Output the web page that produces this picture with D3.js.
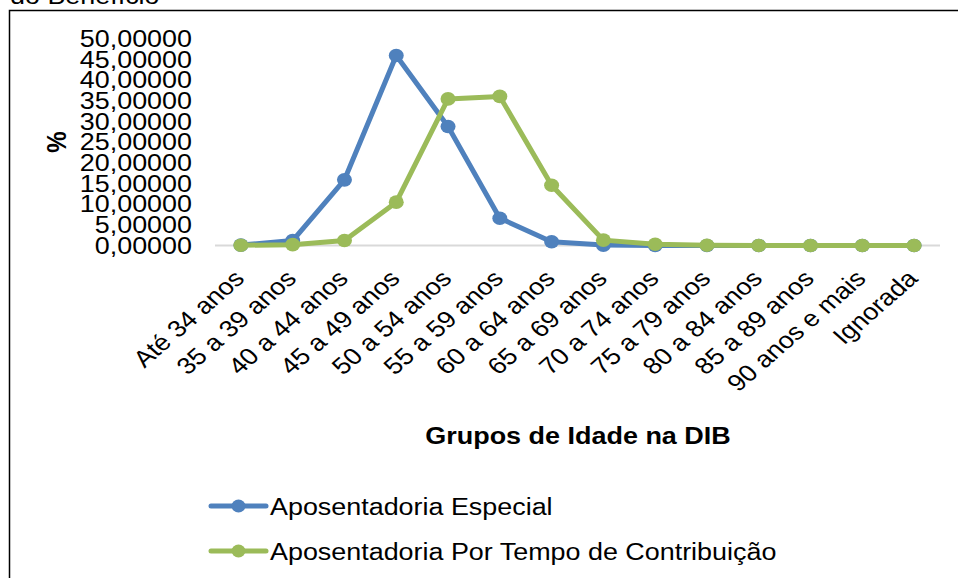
<!DOCTYPE html>
<html>
<head>
<meta charset="utf-8">
<script src="https://cdn.jsdelivr.net/npm/d3@7"></script>
<style>
  body { margin: 0; background: #fff; }
  text { font-family: "Liberation Sans", Arial, sans-serif; fill: #000; }
</style>
</head>
<body>
<div id="chart"></div>
<script>
// age groups on the x axis
var categories = ["Até 34 anos", "35 a 39 anos", "40 a 44 anos", "45 a 49 anos",
  "50 a 54 anos", "55 a 59 anos", "60 a 64 anos", "65 a 69 anos", "70 a 74 anos",
  "75 a 79 anos", "80 a 84 anos", "85 a 89 anos", "90 anos e mais", "Ignorada"];

var especial = [0.1, 1.2, 15.9, 46.0, 28.8, 6.6, 0.9, 0.1, 0.0, 0.0, 0.0, 0.0, 0.0, 0.0];
var contribuicao = [0.05, 0.2, 1.2, 10.5, 35.5, 36.1, 14.6, 1.3, 0.3, 0.05, 0.0, 0.0, 0.0, 0.0];

var seriesNames = ["Aposentadoria Especial", "Aposentadoria Por Tempo de Contribuição"];
var yTicks = [0, 5, 10, 15, 20, 25, 30, 35, 40, 45, 50];

var svgWidth = 958;
var svgHeight = 578;
var sx = 1.145;   // the picture is stretched sideways
var fs = 23.5;

var svg = d3.select("#chart")
  .append("svg")
  .attr("width", svgWidth)
  .attr("height", svgHeight);

// frame (only top and left edges visible)
svg.append("path")
  .attr("d", "M9.5,578 L9.5,10.5 L958,10.5")
  .attr("fill", "none")
  .attr("stroke", "#000")
  .attr("stroke-width", 1.5);

svg.append("text")
  .attr("transform", `translate(10, 4) scale(${sx},1)`)
  .style("font-size", fs + "px")
  .text("do Benefício");

var xScale = d3.scalePoint()
  .domain(categories)
  .range([215, 940])
  .padding(0.5);

var yScale = d3.scaleLinear()
  .domain([0, 50])
  .range([245.5, 39]);

// baseline grid line
svg.append("line")
  .attr("x1", 215).attr("x2", 940)
  .attr("y1", yScale(0)).attr("y2", yScale(0))
  .attr("stroke", "#d9d9d9")
  .attr("stroke-width", 2);

// y tick labels
var fmt = d => d.toFixed(5).replace(".", ",");
svg.append("g").selectAll("text")
  .data(yTicks)
  .enter()
  .append("text")
  .attr("transform", d => `translate(192, ${yScale(d) + 8}) scale(${sx},1)`)
  .attr("text-anchor", "end")
  .style("font-size", fs + "px")
  .text(fmt);

svg.append("text")
  .attr("transform", `translate(66, 142) scale(${sx},1) rotate(-90)`)
  .attr("text-anchor", "middle")
  .style("font-size", "24px")
  .style("font-weight", "bold")
  .text("%");

// x tick labels, rotated
svg.append("g").selectAll("text")
  .data(categories)
  .enter()
  .append("text")
  .attr("transform", d => `translate(${xScale(d) + 5}, 280) scale(${sx},1) rotate(-45)`)
  .attr("text-anchor", "end")
  .style("font-size", fs + "px")
  .text(d => d);

svg.append("text")
  .attr("transform", `translate(578, 443.5) scale(1.1,1)`)
  .attr("text-anchor", "middle")
  .style("font-size", "24.5px")
  .style("font-weight", "bold")
  .text("Grupos de Idade na DIB");

// series
var series = [
  { name: seriesNames[0], values: especial, color: "#4f81bd" },
  { name: seriesNames[1], values: contribuicao, color: "#9bbb59" }
];

var line = d3.line()
  .x((d, i) => xScale(categories[i]))
  .y(d => yScale(d));

series.forEach(function(s) {
  svg.append("path")
    .datum(s.values)
    .attr("d", line)
    .attr("fill", "none")
    .attr("stroke", s.color)
    .attr("stroke-width", 5)
    .attr("stroke-linejoin", "round")
    .attr("stroke-linecap", "round");

  svg.append("g").selectAll("ellipse")
    .data(s.values)
    .enter()
    .append("ellipse")
    .attr("cx", (d, i) => xScale(categories[i]))
    .attr("cy", d => yScale(d))
    .attr("rx", 7.5)
    .attr("ry", 6.8)
    .attr("fill", s.color);
});

// legend
var legend = svg.append("g")
  .selectAll("g")
  .data(series)
  .enter()
  .append("g")
  .attr("transform", (d, i) => `translate(0, ${506 + i * 45})`);

legend.append("line")
  .attr("x1", 211).attr("x2", 266)
  .attr("stroke", d => d.color)
  .attr("stroke-width", 5)
  .attr("stroke-linecap", "round");

legend.append("ellipse")
  .attr("cx", 238.5)
  .attr("rx", 7).attr("ry", 6.5)
  .attr("fill", d => d.color);

legend.append("text")
  .attr("transform", `translate(270, 8.5) scale(${sx},1)`)
  .style("font-size", fs + "px")
  .text(d => d.name);
</script>
</body>
</html>
